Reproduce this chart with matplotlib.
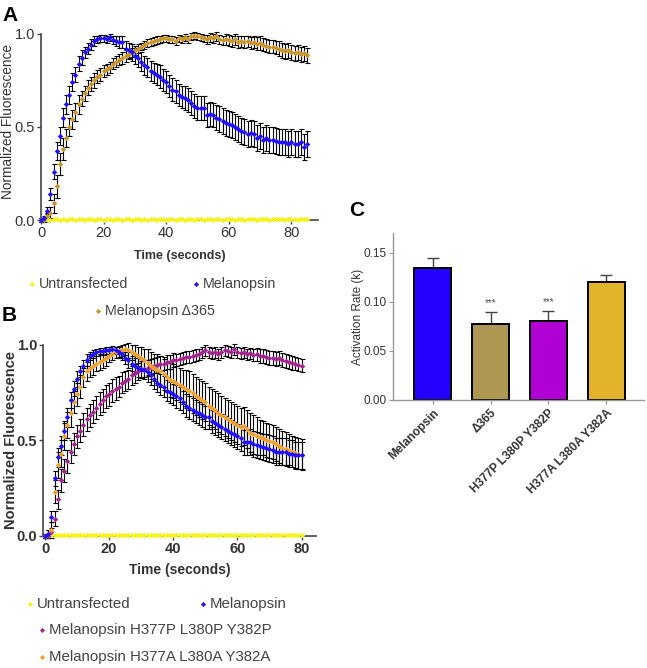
import matplotlib
matplotlib.use("Agg")
import matplotlib.pyplot as plt
from matplotlib.lines import Line2D

plt.rcParams['font.family'] = ['Liberation Sans', 'DejaVu Sans']

# ---------------- Panel A data ----------------
time_a = list(range(0, 86))
mel_a = [0.00, 0.01, 0.05, 0.14, 0.26, 0.37, 0.45, 0.55, 0.62, 0.67,
         0.74, 0.78, 0.84, 0.87, 0.90, 0.92, 0.94, 0.96, 0.97, 0.975,
         0.975, 0.97, 0.98, 0.965, 0.96, 0.955, 0.955, 0.92, 0.91, 0.90,
         0.88, 0.87, 0.85, 0.83, 0.82, 0.80, 0.79, 0.78, 0.77, 0.75,
         0.74, 0.72, 0.70, 0.69, 0.67, 0.66, 0.655, 0.645, 0.63, 0.61,
         0.60, 0.60, 0.60, 0.565, 0.57, 0.565, 0.55, 0.54, 0.53, 0.52,
         0.515, 0.51, 0.50, 0.49, 0.48, 0.47, 0.46, 0.465, 0.46, 0.44,
         0.45, 0.43, 0.44, 0.43, 0.43, 0.425, 0.42, 0.42, 0.42, 0.41,
         0.42, 0.41, 0.41, 0.42, 0.39, 0.41]
mel_a_err = [0.01, 0.01, 0.02, 0.03, 0.04, 0.05, 0.05, 0.05, 0.05, 0.05,
             0.05, 0.04, 0.04, 0.04, 0.03, 0.03, 0.03, 0.025, 0.02, 0.02,
             0.02, 0.02, 0.02, 0.02, 0.025, 0.03, 0.03, 0.04, 0.04, 0.045,
             0.045, 0.05, 0.05, 0.05, 0.05, 0.055, 0.055, 0.055, 0.06, 0.06,
             0.06, 0.06, 0.06, 0.06, 0.06, 0.06, 0.065, 0.065, 0.065, 0.065,
             0.065, 0.065, 0.065, 0.065, 0.065, 0.065, 0.065, 0.07, 0.07, 0.07,
             0.07, 0.07, 0.07, 0.07, 0.07, 0.07, 0.07, 0.07, 0.07, 0.07,
             0.07, 0.07, 0.07, 0.07, 0.07, 0.07, 0.07, 0.07, 0.07, 0.07,
             0.07, 0.07, 0.07, 0.07, 0.07, 0.07]
d365_a = [0.00, 0.00, 0.02, 0.04, 0.09, 0.18, 0.30, 0.38, 0.44, 0.50,
          0.54, 0.58, 0.62, 0.65, 0.68, 0.71, 0.73, 0.75, 0.77, 0.78,
          0.80, 0.81, 0.82, 0.84, 0.85, 0.86, 0.87, 0.88, 0.89, 0.90,
          0.91, 0.92, 0.93, 0.94, 0.95, 0.955, 0.96, 0.965, 0.97, 0.975,
          0.975, 0.97, 0.97, 0.96, 0.975, 0.97, 0.98, 0.97, 0.985, 0.99,
          0.985, 0.98, 0.975, 0.97, 0.98, 0.975, 0.985, 0.97, 0.965, 0.97,
          0.965, 0.96, 0.97, 0.955, 0.96, 0.955, 0.96, 0.95, 0.955, 0.945,
          0.95, 0.94, 0.935, 0.93, 0.93, 0.925, 0.92, 0.91, 0.905, 0.91,
          0.90, 0.895, 0.90, 0.89, 0.895, 0.885]
d365_a_err = [0.01, 0.01, 0.02, 0.03, 0.05, 0.06, 0.06, 0.06, 0.05, 0.05,
              0.05, 0.05, 0.05, 0.04, 0.04, 0.04, 0.04, 0.04, 0.035, 0.035,
              0.03, 0.03, 0.03, 0.03, 0.03, 0.03, 0.03, 0.03, 0.025, 0.025,
              0.025, 0.025, 0.02, 0.02, 0.02, 0.02, 0.02, 0.02, 0.02, 0.02,
              0.02, 0.02, 0.02, 0.02, 0.02, 0.02, 0.02, 0.02, 0.02, 0.02,
              0.02, 0.02, 0.02, 0.025, 0.025, 0.025, 0.025, 0.025, 0.025, 0.03,
              0.03, 0.03, 0.03, 0.03, 0.03, 0.03, 0.03, 0.03, 0.03, 0.035,
              0.035, 0.035, 0.035, 0.035, 0.035, 0.035, 0.04, 0.04, 0.04, 0.04,
              0.04, 0.04, 0.04, 0.04, 0.04, 0.04]
untr_a = [0.000, 0.003, 0.004, 0.002, 0.005, 0.003, 0.001, 0.004, 0.002, 0.003,
          0.005, 0.002, 0.004, 0.003, 0.001, 0.004, 0.005, 0.002, 0.003, 0.004,
          0.002, 0.003, 0.005, 0.001, 0.003, 0.004, 0.002, 0.005, 0.003, 0.002,
          0.004, 0.003, 0.001, 0.004, 0.002, 0.005, 0.003, 0.002, 0.004, 0.003,
          0.002, 0.005, 0.003, 0.001, 0.004, 0.003, 0.002, 0.004, 0.005, 0.002,
          0.003, 0.004, 0.002, 0.003, 0.005, 0.002, 0.004, 0.003, 0.001, 0.004,
          0.003, 0.005, 0.002, 0.004, 0.003, 0.002, 0.005, 0.003, 0.004, 0.002,
          0.003, 0.005, 0.004, 0.002, 0.003, 0.004, 0.005, 0.003, 0.002, 0.004,
          0.003, 0.005, 0.002, 0.004, 0.003, 0.004]

# ---------------- Panel B data ----------------
time_b = list(range(0, 81))
mel_b = [0.00, 0.01, 0.10, 0.30, 0.41, 0.47, 0.55, 0.62, 0.71, 0.77,
         0.82, 0.86, 0.89, 0.92, 0.94, 0.95, 0.96, 0.965, 0.965, 0.97,
         0.97, 0.975, 0.97, 0.96, 0.95, 0.93, 0.92, 0.90, 0.89, 0.88,
         0.875, 0.87, 0.855, 0.84, 0.82, 0.80, 0.79, 0.78, 0.76, 0.75,
         0.74, 0.73, 0.72, 0.70, 0.68, 0.67, 0.66, 0.65, 0.64, 0.63,
         0.62, 0.62, 0.60, 0.59, 0.58, 0.57, 0.56, 0.55, 0.54, 0.53,
         0.52, 0.51, 0.49, 0.49, 0.49, 0.48, 0.475, 0.47, 0.465, 0.46,
         0.455, 0.45, 0.44, 0.44, 0.44, 0.44, 0.43, 0.43, 0.42, 0.42,
         0.42]
mel_b_err = [0.01, 0.02, 0.03, 0.04, 0.05, 0.05, 0.05, 0.05, 0.04, 0.04,
             0.04, 0.03, 0.03, 0.03, 0.02, 0.02, 0.02, 0.02, 0.02, 0.02,
             0.02, 0.02, 0.02, 0.03, 0.03, 0.03, 0.04, 0.04, 0.04, 0.05,
             0.05, 0.05, 0.05, 0.05, 0.05, 0.05, 0.055, 0.055, 0.055, 0.055,
             0.055, 0.06, 0.06, 0.06, 0.06, 0.06, 0.06, 0.06, 0.06, 0.06,
             0.06, 0.06, 0.06, 0.065, 0.065, 0.065, 0.065, 0.065, 0.065, 0.065,
             0.065, 0.065, 0.065, 0.065, 0.07, 0.07, 0.07, 0.07, 0.07, 0.07,
             0.07, 0.07, 0.07, 0.07, 0.07, 0.07, 0.07, 0.07, 0.07, 0.07,
             0.07]
h377p_b = [0.00, 0.00, 0.02, 0.09, 0.19, 0.29, 0.34, 0.39, 0.44, 0.48,
           0.52, 0.55, 0.58, 0.61, 0.63, 0.65, 0.67, 0.69, 0.71, 0.73,
           0.74, 0.76, 0.77, 0.78, 0.80, 0.81, 0.82, 0.84, 0.85, 0.86,
           0.87, 0.875, 0.88, 0.885, 0.89, 0.895, 0.90, 0.90, 0.91, 0.91,
           0.92, 0.92, 0.925, 0.93, 0.935, 0.935, 0.94, 0.945, 0.95, 0.96,
           0.97, 0.96, 0.955, 0.96, 0.95, 0.96, 0.97, 0.965, 0.96, 0.975,
           0.96, 0.955, 0.96, 0.95, 0.955, 0.945, 0.95, 0.94, 0.94, 0.935,
           0.93, 0.93, 0.925, 0.93, 0.92, 0.915, 0.91, 0.905, 0.90, 0.895,
           0.89]
h377p_b_err = [0.01, 0.01, 0.02, 0.04, 0.05, 0.06, 0.06, 0.06, 0.06, 0.06,
               0.06, 0.06, 0.06, 0.06, 0.06, 0.06, 0.06, 0.06, 0.06, 0.06,
               0.06, 0.06, 0.06, 0.055, 0.055, 0.05, 0.05, 0.05, 0.05, 0.045,
               0.045, 0.045, 0.04, 0.04, 0.04, 0.04, 0.04, 0.035, 0.035, 0.035,
               0.035, 0.03, 0.03, 0.03, 0.03, 0.03, 0.03, 0.03, 0.03, 0.03,
               0.03, 0.03, 0.03, 0.03, 0.03, 0.03, 0.03, 0.03, 0.03, 0.03,
               0.03, 0.03, 0.03, 0.03, 0.03, 0.03, 0.035, 0.035, 0.035, 0.035,
               0.035, 0.035, 0.035, 0.035, 0.035, 0.035, 0.035, 0.035, 0.035, 0.035,
               0.035]
h377a_b = [0.00, 0.01, 0.03, 0.23, 0.37, 0.43, 0.52, 0.58, 0.64, 0.70,
           0.74, 0.78, 0.83, 0.86, 0.88, 0.89, 0.90, 0.91, 0.92, 0.93,
           0.94, 0.95, 0.96, 0.965, 0.97, 0.975, 0.97, 0.96, 0.95, 0.94,
           0.93, 0.92, 0.905, 0.89, 0.88, 0.87, 0.86, 0.845, 0.83, 0.815,
           0.81, 0.80, 0.79, 0.78, 0.77, 0.76, 0.745, 0.73, 0.72, 0.71,
           0.70, 0.68, 0.67, 0.66, 0.645, 0.63, 0.62, 0.61, 0.60, 0.59,
           0.58, 0.57, 0.575, 0.56, 0.54, 0.53, 0.52, 0.515, 0.51, 0.50,
           0.495, 0.49, 0.48, 0.47, 0.46, 0.455, 0.45, 0.44, 0.435, 0.43,
           0.425]
h377a_b_err = [0.01, 0.02, 0.04, 0.06, 0.07, 0.07, 0.07, 0.07, 0.07, 0.06,
               0.06, 0.06, 0.05, 0.05, 0.05, 0.05, 0.04, 0.04, 0.04, 0.04,
               0.03, 0.03, 0.03, 0.03, 0.03, 0.03, 0.04, 0.04, 0.05, 0.05,
               0.06, 0.06, 0.07, 0.07, 0.07, 0.08, 0.08, 0.08, 0.08, 0.09,
               0.09, 0.09, 0.09, 0.09, 0.10, 0.10, 0.10, 0.10, 0.10, 0.10,
               0.10, 0.10, 0.10, 0.10, 0.10, 0.10, 0.10, 0.10, 0.10, 0.10,
               0.10, 0.10, 0.10, 0.10, 0.10, 0.10, 0.10, 0.09, 0.09, 0.09,
               0.09, 0.09, 0.09, 0.09, 0.09, 0.09, 0.08, 0.08, 0.08, 0.08,
               0.08]
untr_b = [0.000, 0.004, 0.006, 0.003, 0.005, 0.004, 0.002, 0.005, 0.003, 0.004,
          0.006, 0.003, 0.005, 0.004, 0.002, 0.005, 0.006, 0.003, 0.004, 0.005,
          0.003, 0.004, 0.006, 0.002, 0.004, 0.005, 0.003, 0.006, 0.004, 0.003,
          0.005, 0.004, 0.002, 0.005, 0.003, 0.006, 0.004, 0.003, 0.005, 0.004,
          0.003, 0.006, 0.004, 0.002, 0.005, 0.004, 0.003, 0.005, 0.006, 0.003,
          0.004, 0.005, 0.003, 0.004, 0.006, 0.003, 0.005, 0.004, 0.002, 0.005,
          0.004, 0.006, 0.003, 0.005, 0.004, 0.003, 0.006, 0.004, 0.005, 0.003,
          0.004, 0.006, 0.005, 0.003, 0.004, 0.005, 0.006, 0.004, 0.003, 0.005,
          0.004]

# ---------------- Panel C data ----------------
c_labels = ["Melanopsin", "\u0394365", "H377P L380P Y382P", "H377A L380A Y382A"]
c_values = [0.135, 0.078, 0.081, 0.120]
c_errors = [0.010, 0.012, 0.010, 0.007]
c_signif = ["", "***", "***", ""]

# ---------------- colours ----------------
BLUE = "#2010FF"
GOLD = "#C8952C"
YELLOW = "#F4F41C"
PURPLE = "#A0268E"
ORANGE = "#F0A030"
C_COLORS = ["#2400FF", "#AD9752", "#B000D4", "#E2B22A"]
TXT = "#333333"

W, H = 647, 668
fig = plt.figure(figsize=(W / 100, H / 100), dpi=100)


def fx(px):
    return px / W


def fy(py):
    return 1 - py / H


def series(ax, t, y, e, color):
    ax.errorbar(t, y, yerr=e, fmt='none', ecolor='black', elinewidth=0.8,
                capsize=1.8, capthick=0.8, clip_on=False, zorder=2)
    ax.plot(t, y, linestyle='none', marker='D', markersize=2.8,
            color=color, markeredgewidth=0, clip_on=False, zorder=3)


def style_line_axes(ax, bold):
    for s in ['top', 'right']:
        ax.spines[s].set_visible(False)
    for s in ['left', 'bottom']:
        ax.spines[s].set_color('#444444')
        ax.spines[s].set_linewidth(1.2)
    ax.tick_params(direction='out', length=3, width=1, color='#444444',
                   labelsize=10.5, labelcolor=TXT, pad=1.5)
    ax.set_yticks([0.0, 0.5, 1.0])
    ax.set_yticklabels(["0.0", "0.5", "1.0"])
    for lab in ax.get_xticklabels() + ax.get_yticklabels():
        lab.set_fontweight('bold' if bold else 'normal')


# ---------- Panel A ----------
axA_left, axA_w = 41, 277
axA = fig.add_axes([fx(axA_left), fy(220), axA_w / W, (220 - 33.7) / H])
series(axA, time_a, untr_a, None, YELLOW)
series(axA, time_a, d365_a, d365_a_err, GOLD)
series(axA, time_a, mel_a, mel_a_err, BLUE)
axA.set_xlim(0, 88.5)
axA.set_ylim(0, 1.0)
axA.set_xticks([0, 20, 40, 60, 80])
style_line_axes(axA, False)
axA.set_ylabel("Normalized Fluorescence", fontsize=9.8, color=TXT)
axA.yaxis.set_label_coords((15.5 - axA_left) / axA_w, 0.53)
axA.set_xlabel("Time (seconds)", fontsize=9, fontweight='bold', color=TXT, labelpad=7)

# ---------- Panel B ----------
axB_left, axB_w = 43.4, 272.6
axB = fig.add_axes([fx(axB_left), fy(535.7), axB_w / W, 191 / H])
series(axB, time_b, untr_b, None, YELLOW)
series(axB, time_b, h377p_b, h377p_b_err, PURPLE)
series(axB, time_b, h377a_b, h377a_b_err, ORANGE)
series(axB, time_b, mel_b, mel_b_err, BLUE)
axB.set_xlim(-0.5, 84.5)
axB.set_ylim(0, 1.0)
axB.set_xticks([0, 20, 40, 60, 80])
style_line_axes(axB, True)
axB.set_ylabel("Normalized Fluorescence", fontsize=10.5, fontweight='bold', color=TXT)
axB.yaxis.set_label_coords((18 - axB_left) / axB_w, 0.5)
axB.set_xlabel("Time (seconds)", fontsize=10, fontweight='bold', color=TXT, labelpad=5)

# ---------- Panel C ----------
axC = fig.add_axes([fx(393.3), fy(400), fx(644) - fx(393.3), (400 - 233.3) / H])
xs = list(range(len(c_values)))
axC.bar(xs, c_values, width=0.63, color=C_COLORS, edgecolor='black',
        linewidth=1.4, zorder=2)
for x, v, e, s in zip(xs, c_values, c_errors, c_signif):
    axC.errorbar([x], [v], yerr=[[0], [e]], fmt='none', ecolor='#444444',
                 elinewidth=1.0, capsize=4.5, capthick=1.0, zorder=1)
    if s:
        axC.text(x, v + e + 0.0035, s, ha='center', va='bottom', fontsize=7,
                 color='#555555')
axC.set_xlim(-0.68, 3.65)
axC.set_ylim(0, 0.17)
axC.set_yticks([0.00, 0.05, 0.10, 0.15])
axC.set_yticklabels(["0.00", "0.05", "0.10", "0.15"])
axC.set_xticks(xs)
axC.set_xticklabels(c_labels, rotation=45, ha='right', rotation_mode='anchor',
                    fontsize=8.6, fontweight='bold', color=TXT)
for s in ['top', 'right']:
    axC.spines[s].set_visible(False)
for s in ['left', 'bottom']:
    axC.spines[s].set_color('#999999')
    axC.spines[s].set_linewidth(1.0)
axC.tick_params(axis='y', direction='out', length=3, color='#999999',
                labelsize=8.5, labelcolor=TXT, pad=1.5)
axC.tick_params(axis='x', direction='out', length=3, color='#999999', pad=2)
axC.set_ylabel("Activation Rate (k)", fontsize=8.5, color=TXT)
axC.yaxis.set_label_coords((364 - 393.3) / (644 - 393.3), 0.5)

# ---------- Panel letters ----------
fig.text(fx(2), fy(21), "A", fontsize=15, fontweight='bold', ha='left', va='baseline')
fig.text(fx(2), fy(321), "B", fontsize=15, fontweight='bold', ha='left', va='baseline')
fig.text(fx(349), fy(216), "C", fontsize=15, fontweight='bold', ha='left', va='baseline')


# ---------- Legends ----------
def legend_item(xm, yc, color, label, size):
    fig.add_artist(Line2D([fx(xm)], [fy(yc)], marker='D', markersize=2.6,
                          color=color, markeredgewidth=0, linestyle='none',
                          transform=fig.transFigure))
    fig.text(fx(xm + 7), fy(yc), label, fontsize=size, color='#444444',
             ha='left', va='center')


legend_item(32, 284, YELLOW, "Untransfected", 10.3)
legend_item(196, 284, BLUE, "Melanopsin", 10.3)
legend_item(98, 311, GOLD, "Melanopsin \u0394365", 10.3)

legend_item(30, 604, YELLOW, "Untransfected", 10.8)
legend_item(203, 604, BLUE, "Melanopsin", 10.8)
legend_item(42, 630, PURPLE, "Melanopsin H377P L380P Y382P", 10.8)
legend_item(42, 657, ORANGE, "Melanopsin H377A L380A Y382A", 10.8)

fig.savefig("out.png", dpi=100)
